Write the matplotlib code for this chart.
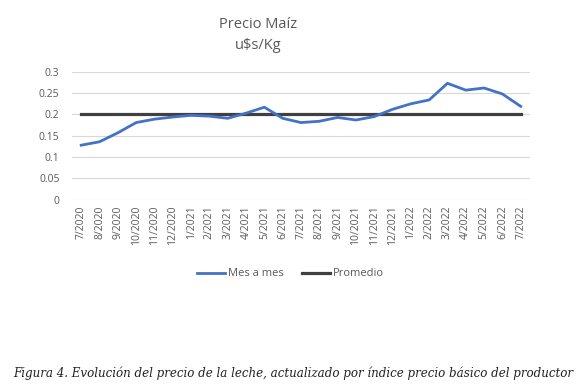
import matplotlib
matplotlib.use("Agg")
import matplotlib.pyplot as plt

months = ["7/2020", "8/2020", "9/2020", "10/2020", "11/2020", "12/2020",
          "1/2021", "2/2021", "3/2021", "4/2021", "5/2021", "6/2021",
          "7/2021", "8/2021", "9/2021", "10/2021", "11/2021", "12/2021",
          "1/2022", "2/2022", "3/2022", "4/2022", "5/2022", "6/2022", "7/2022"]
mes_a_mes = [0.128, 0.136, 0.157, 0.181, 0.189, 0.194,
             0.198, 0.196, 0.191, 0.203, 0.217, 0.191,
             0.181, 0.184, 0.193, 0.187, 0.195, 0.212,
             0.225, 0.234, 0.273, 0.257, 0.262, 0.248, 0.219]
promedio_value = 0.202
promedio = [promedio_value] * len(months)
yticks = [0, 0.05, 0.1, 0.15, 0.2, 0.25, 0.3]
ytick_labels = ["0", "0.05", "0.1", "0.15", "0.2", "0.25", "0.3"]

plt.rcParams['font.family'] = ['Open Sans', 'DejaVu Sans']
gray = "#595959"

fig = plt.figure(figsize=(5.81, 3.88), dpi=100)
ax = fig.add_axes([0.124, 0.485, 0.788, 0.33])

x = list(range(len(months)))
ax.plot(x, mes_a_mes, color="#4472C4", lw=2.0, label="Mes a mes", zorder=3)
ax.plot(x, promedio, color="#404040", lw=2.3, label="Promedio", zorder=2)

ax.set_xlim(-0.5, len(months) - 0.5)
ax.set_ylim(0, 0.3)
ax.set_yticks(yticks)
ax.set_yticklabels(ytick_labels)
ax.set_xticks(x)
ax.set_xticklabels(months, rotation=90)
ax.tick_params(axis="both", length=0, labelsize=7.5, colors=gray)
ax.tick_params(axis="y", pad=9)
ax.tick_params(axis="x", pad=4)
ax.grid(axis="y", color="#D9D9D9", lw=0.8)
ax.set_axisbelow(True)
for s in ax.spines.values():
    s.set_visible(False)

fig.text(0.444, 0.937, "Precio Maíz", ha="center", va="center", fontsize=10.5, color=gray)
fig.text(0.444, 0.882, "u$s/Kg", ha="center", va="center", fontsize=10.5, color=gray)

leg = fig.legend(loc="center", bbox_to_anchor=(0.5, 0.294), ncol=2, frameon=False,
                 fontsize=8, handlelength=2.5, columnspacing=1.6, handletextpad=0.3)
for t in leg.get_texts():
    t.set_color(gray)

fig.text(0.022, 0.038, "Figura 4. Evolución del precio de la leche, actualizado por índice precio básico del productor",
         ha="left", va="center", fontsize=8.6, style="italic", family="DejaVu Serif", color="#222222")

fig.savefig("out.png", dpi=100, facecolor="white")
